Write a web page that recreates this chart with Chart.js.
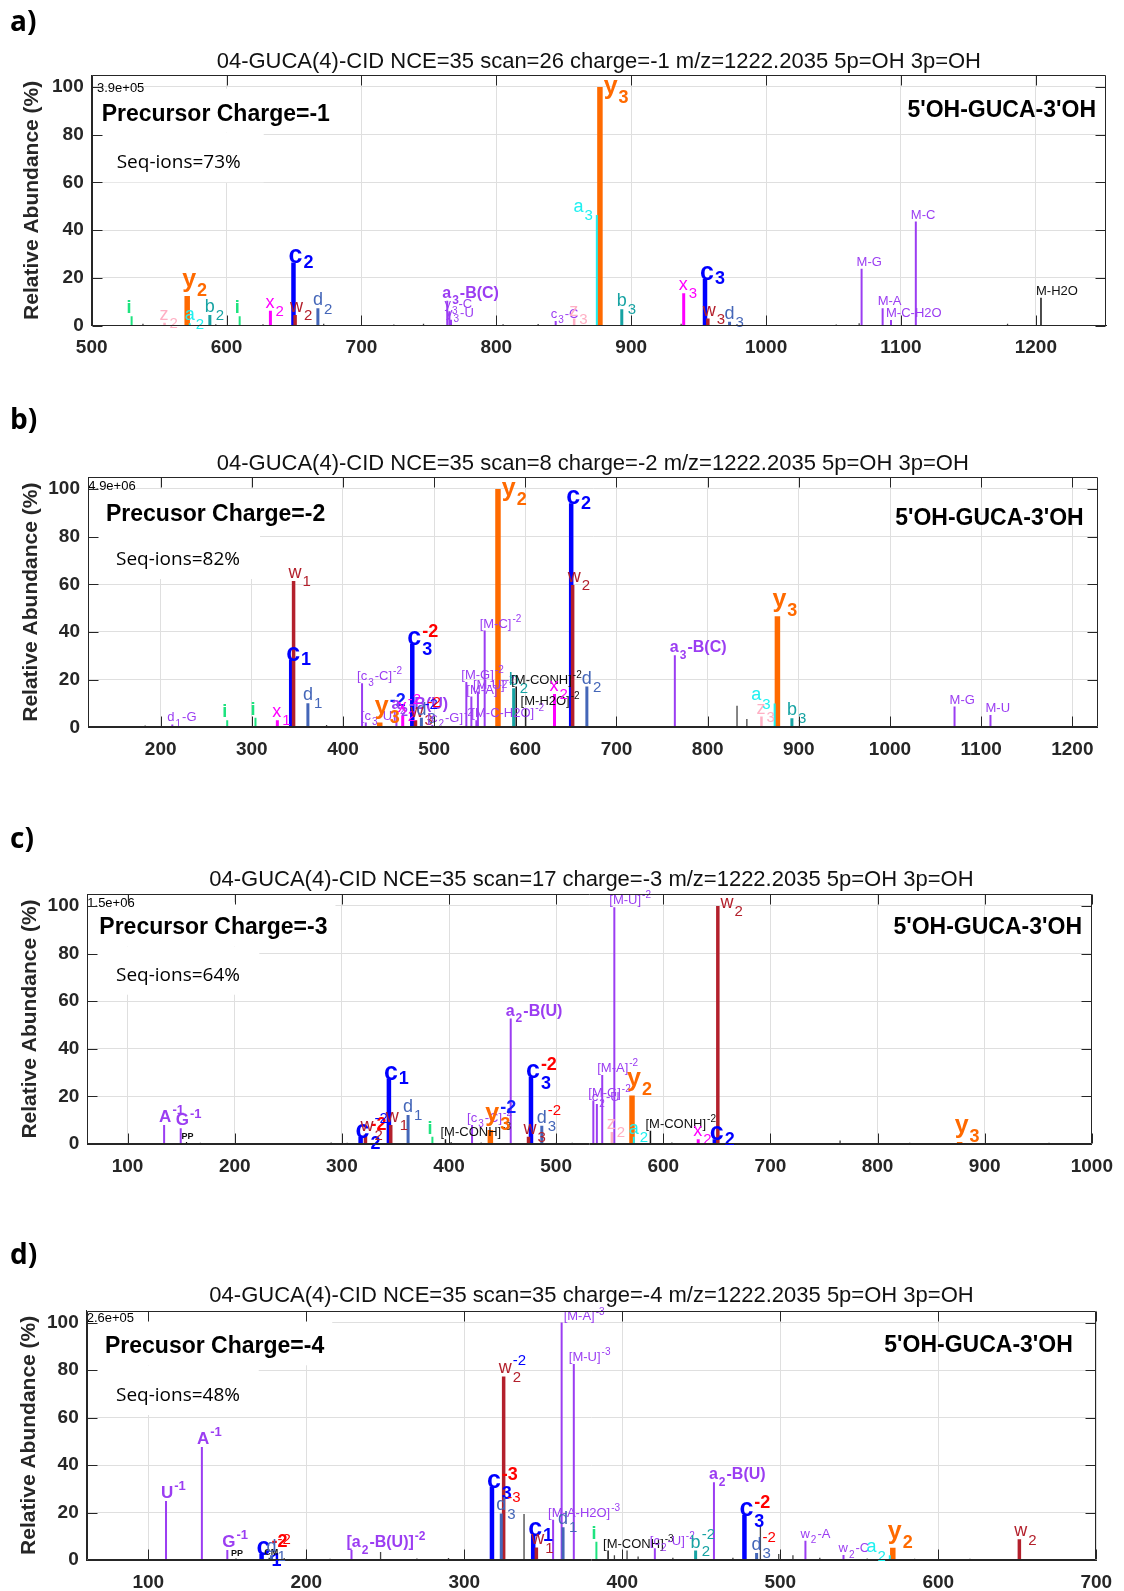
<!DOCTYPE html>
<html><head><meta charset="utf-8">
<script src="https://cdn.jsdelivr.net/npm/chart.js@4.4.1/dist/chart.umd.min.js"></script>
<style>
html,body{margin:0;padding:0;background:#fff;}
body{width:1124px;height:1591px;position:relative;overflow:hidden;font-family:"Liberation Sans",Arial,sans-serif;}
canvas{position:absolute;left:0;}
.ttl{position:absolute;font-size:22px;white-space:nowrap;text-align:center;width:1000px;height:26px;line-height:26px;color:#111;z-index:2;}
.let{position:absolute;left:10px;font-family:"Open Sans",sans-serif;font-weight:bold;font-size:28px;height:36px;line-height:36px;color:#000;z-index:2;}
</style></head><body>
<script>
// ---------------- DATA ----------------
const panelLetters = ['a)','b)','c)','d)'];
const panelTitles = [
  '04-GUCA(4)-CID NCE=35 scan=26 charge=-1 m/z=1222.2035 5p=OH 3p=OH',
  '04-GUCA(4)-CID NCE=35 scan=8 charge=-2 m/z=1222.2035 5p=OH 3p=OH',
  '04-GUCA(4)-CID NCE=35 scan=17 charge=-3 m/z=1222.2035 5p=OH 3p=OH',
  '04-GUCA(4)-CID NCE=35 scan=35 charge=-4 m/z=1222.2035 5p=OH 3p=OH'
];
const precursorLabels = ['Precursor Charge=-1','Precusor Charge=-2','Precursor Charge=-3','Precusor Charge=-4'];
const seqIonLabels = ['Seq-ions=73%','Seq-ions=82%','Seq-ions=64%','Seq-ions=48%'];
const sequenceLabel = "5'OH-GUCA-3'OH";
const maxIntensityLabels = ['3.9e+05','4.9e+06','1.5e+06','2.6e+05'];
const yAxisTitle = 'Relative Abundance (%)';
const yTicks = [0,20,40,60,80,100];
const xTicksA = [500,600,700,800,900,1000,1100,1200];
const xTicksB = [200,300,400,500,600,700,800,900,1000,1100,1200];
const xTicksC = [100,200,300,400,500,600,700,800,900,1000];
const xTicksD = [100,200,300,400,500,600,700];

// Panel a (charge -1)
const mzA  = [529.6,554,570.8,572.7,587.6,609.7,632.5,649.6,650.8,667.7,763.6,765.2,766.4,844,857.7,874.5,876.8,893,938.9,954.7,956.8,972.9,1070.8,1086.4,1092.6,1111,1203.8,
              538,592,627,672,724,746,805,831,937,1052,1069,1179];
const intA = [4,1.2,12.4,1,4.5,4,6.3,26.5,4.5,7.3,10.5,6,2.5,2,3,46.4,100,6.9,13.6,19.6,3,1.7,23.8,7.3,2.4,43.6,11.7,
              0.8,0.6,0.6,0.8,0.5,0.8,0.6,0.7,0.8,0.5,1,0.8];
const ionA = ['i','z','y','a','b','i','x','c','w','d','ib','m','m','m','z','a','y','b','x','c','w','d','m','m','m','m','k',
              'n','n','n','n','n','n','n','n','n','n','n','n'];
const labA = ['i','z_{2}','y_{2}','a_{2}','b_{2}','i','x_{2}','c_{2}','w_{2}','d_{2}','a_{3}-B(C)','y_{3}-C','y_{3}-U','c_{3}-C','z_{3}','a_{3}','y_{3}','b_{3}','x_{3}','c_{3}','w_{3}','d_{3}','M-G','M-A','M-C-H2O','M-C','M-H2O',
              '','','','','','','','','','','',''];

// Panel b (charge -2)
const mzB  = [212.8,273,304,328,343.2,345.8,361.5,420.9,425,440.3,458.6,465.5,476,479.5,486,498,535.3,540.8,546.3,548,555.4,570,587.2,590,600.3,632,650.3,651.9,667.5,764,832.2,843,859,873.5,876.5,892.4,1070.8,1110.2,
              183,229,382,508,729,746,815,941];
const intB = [1.2,3,4,3,28.4,61.4,10.1,18.5,2,2,6.4,5,35.1,3,4,1,19,12.9,3,15,40.6,100,16.4,17.1,8,14,94,59.7,17.1,30.2,9,3.5,4.5,10,46.6,3.8,8.7,5.2,
              0.8,0.5,1,0.7,0.5,0.5,0.5,0.5];
const ionB = ['m','i','i','x','c','w','d','m','m','y','ib','x','c','w','d','m','m','m','m','m','m','y','b','k','k','x','c','w','d','ib','n','n','z','a','y','b','m','m',
              'n','n','n','n','n','n','n','n'];
const labB = ['d_{1}-G','i','i','x_{1}','c_{1}','w_{1}','d_{1}','[c_{3}-C]^{-2}','[c_{3}-U]^{-2}','y_{3}^{-2}','a_{2}-B(U)','x_{2}^{-2}','c_{3}^{-2}','w_{3}^{-2}','d_{3}^{-2}','[c_{2}-G]^{-2}','[M-G]^{-2}','[M-A]^{-2}','[M-C-H2O]^{-2}','[M-U]^{-2}','[M-C]^{-2}','y_{2}','b_{2}','[M-CONH]^{-2}','[M-H2O]^{-2}','x_{2}','c_{2}','w_{2}','d_{2}','a_{3}-B(C)','','','z_{3}','a_{3}','y_{3}','b_{3}','M-G','M-U',
              '','','','','','','',''];

// Panel c (charge -3)
const mzC  = [134.1,149.6,155,317.5,322,343.9,345.6,361.8,384.5,396.7,421.5,438.6,457.6,474.2,476.5,486.6,534.7,538,543,552,554.3,570.8,572.5,588,632.6,648.1,650.9,876.6,
              168,190,290,305,402,430,500,515,608,765,830,960];
const intC = [8,6.6,0.8,3,4,27.5,8,12.2,3,2,8,5.9,52.7,3,28.2,7.7,18.3,16.8,29,5,99.4,20.4,3,5.6,2,2,100,0.8,
              0.5,0.4,0.6,0.5,0.8,0.6,0.5,0.5,0.6,1.5,0.5,0.5];
const ionC = ['base','base','ks','c','w','c','w','d','i','k','m','y','ib','w','c','d','m','m','m','z','m','y','a','k','x','c','w','y',
              'n','n','n','n','n','n','n','n','n','n','n','n'];
const labC = ['A^{-1}','G^{-1}','PP','c_{2}^{-2}','w_{2}^{-2}','c_{1}','w_{1}','d_{1}','i','[M-CONH]^{-3}','[c_{3}-C]^{-2}','y_{3}^{-2}','a_{2}-B(U)','w_{3}','c_{3}^{-2}','d_{3}^{-2}','[M-G]^{-2}','c_{2}-U','[M-A]^{-2}','z_{2}','[M-U]^{-2}','y_{2}','a_{2}','[M-CONH]^{-2}','x_{2}','c_{2}','w_{2}','y_{3}',
              '','','','','','','','','','','',''];

// Panel d (charge -4)
const mzD  = [111.2,133.9,150,155.5,171.7,176.5,178,228.6,317.5,323.4,324.9,343.6,345.6,356.2,361.6,362.5,369.3,383.6,391,420.6,446.4,458,477.3,485,515.9,540,569.3,571.2,651.3,
              247,337.8,403,487.4,186,200,215,270,290,395,410,432,470,499,508,525,555,585,620];
const intD = [24.9,47.6,4.2,0.6,2.5,1,2,4.2,30.8,19.6,77.3,10.5,5.3,16.9,100,13.8,82.6,7.7,4,5,4,32.7,19,3,8.1,2.1,2,5.2,8.7,
              3.4,19.4,4,14.7,0.8,0.6,0.5,0.6,0.8,2,1.5,1,1,2.5,2,1,0.6,0.5,0.5];
const ionD = ['base','base','base','ks','c','ks','d','ib','c','d','w','c','w','m','m','d','m','i','k','m','b','ib','c','d','m','m','a','y','w',
              'n','n','n','n','n','n','n','n','n','n','n','n','n','n','n','n','n','n','n'];
const labD = ['U^{-1}','A^{-1}','G^{-1}','PP','c_{1}^{-2}','CM','d_{1}^{-2}','[a_{2}-B(U)]^{-2}','c_{3}^{-3}','d_{3}^{-3}','w_{2}^{-2}','c_{1}','w_{1}','[M-A-H2O]^{-3}','[M-A]^{-3}','d_{1}','[M-U]^{-3}','i','[M-CONH]^{-3}','[c_{2}-U]^{-2}','b_{2}^{-2}','a_{2}-B(U)','c_{3}^{-2}','d_{3}^{-2}','w_{2}-A','w_{2}-C','a_{2}','y_{2}','w_{2}',
              '','','','','','','','','','','','','','','','','','',''];

// ---------------- STYLE / LAYOUT ----------------
const FAM = '"Liberation Sans", Arial, sans-serif';
const ionStyle = {
  y:   {color:'#ff6a00', bw:5.5, weight:'bold',   size:25, sub:18, supColor:'#1020ff', big:'y', order:2},
  c:   {color:'#0000ff', bw:4.5, weight:'bold',   size:25, sub:18, supColor:'#ff0000', big:'c', order:2},
  w:   {color:'#b3202c', bw:3.5, weight:'normal', size:18, sub:15, supColor:'#0000ff', order:1},
  d:   {color:'#4466b8', bw:3,   weight:'normal', size:18, sub:15, supColor:'#ff0000', order:1},
  x:   {color:'#ff00ff', bw:3,   weight:'normal', size:18, sub:15, order:1},
  b:   {color:'#17a3a3', bw:3,   weight:'normal', size:18, sub:15, order:1},
  a:   {color:'#1ff0f0', bw:2,   weight:'normal', size:18, sub:15, order:1},
  z:   {color:'#ffb0c4', bw:2.5, weight:'normal', size:18, sub:15, order:1},
  i:   {color:'#1ee37f', bw:2,   weight:'bold',   size:18, sub:15, order:1},
  m:   {color:'#9b3df2', bw:2,   weight:'normal', size:13, sub:10, order:1},
  ib:  {color:'#9b3df2', bw:2,   weight:'bold',   size:16, sub:12, order:1},
  base:{color:'#9b3df2', bw:2,   weight:'bold',   size:17, sub:13, order:1},
  k:   {color:'#111111', bw:1.5, weight:'normal', size:13, sub:10, order:1},
  ks:  {color:'#111111', bw:1.2, weight:'bold',   size:9,  sub:7,  order:1},
  n:   {color:'#444444', bw:1.3, weight:'normal', size:0,  sub:0,  order:3}
};
const geom = [
  {cy:0,    H:372, L:91.7, R:1106,   T:75,     B:325.7, xMin:500,   xMax:1252,  tY:61,     ltY:20,
   precX:101.7, precDy:45.7, seqX:116.7, seqDy:93.3, nameR:1096, nameDy:41.5, scX:97,   scDy:16.7, ytPad:20},
  {cy:400,  H:372, L:88,   R:1097.5, T:477,    B:727.3, xMin:120.3, xMax:1227.6,tY:462.6,  ltY:418,
   precX:106,   precDy:44,   seqX:116,   seqDy:88,   nameR:1083.7, nameDy:48, scX:88.3, scDy:13,   ytPad:19},
  {cy:820,  H:372, L:87.3, R:1095.5, T:894,    B:1144,  xMin:62.4,  xMax:1000,  tY:878.5,  ltY:837,
   precX:99.3,  precDy:40.3, seqX:116,   seqDy:86.7, nameR:1082, nameDy:40,   scX:87.3, scDy:12.7, ytPad:18},
  {cy:1230, H:361, L:86.7, R:1096.3, T:1310.7, B:1560,  xMin:61,    xMax:700,   tY:1294.5, ltY:1253,
   precX:105,   precDy:42.6, seqX:116,   seqDy:90.3, nameR:1072.8, nameDy:41.3, scX:86.7, scDy:11.3, ytPad:17}
];
const panels = [
  {mz:mzA, inten:intA, ion:ionA, lab:labA, xt:xTicksA},
  {mz:mzB, inten:intB, ion:ionB, lab:labB, xt:xTicksB},
  {mz:mzC, inten:intC, ion:ionC, lab:labC, xt:xTicksC},
  {mz:mzD, inten:intD, ion:ionD, lab:labD, xt:xTicksD}
];

// ---------------- LABEL RENDERING ----------------
function parseLabel(s){
  const segs=[]; let i=0, buf='';
  while(i<s.length){
    const ch=s[i];
    if((ch==='_'||ch==='^') && s[i+1]==='{'){
      if(buf){segs.push({t:buf,k:'n'});buf='';}
      const j=s.indexOf('}',i);
      segs.push({t:s.slice(i+2,j),k:ch==='_'?'sub':'sup'});
      i=j+1;
    } else {buf+=ch;i++;}
  }
  if(buf) segs.push({t:buf,k:'n'});
  return segs;
}
function renderSegs(ctx, segs, x, y, st, draw){
  const w0 = st.weight||'normal';
  const mainF = `${w0} ${st.size}px ${FAM}`, subF = `${w0} ${st.sub}px ${FAM}`;
  let cx = x;
  for(let k=0;k<segs.length;k++){
    const s=segs[k];
    if(s.k==='n'){
      ctx.font=mainF;
      if(draw){ctx.fillStyle=st.color; ctx.fillText(s.t,cx,y);}
      cx+=ctx.measureText(s.t).width;
    } else {
      let sub=null, sup=null;
      while(k<segs.length && segs[k].k!=='n'){ if(segs[k].k==='sub') sub=segs[k].t; else sup=segs[k].t; k++; }
      k--;
      ctx.font=subF;
      let w=0;
      if(sub!==null){
        const dy = st.big==='c' ? (sup!==null?0.6:0.25)*st.sub : (st.big==='y'?0.5:0.55)*st.sub;
        if(draw){ctx.fillStyle=st.color; ctx.fillText(sub,cx+1,y+dy);}
        w=Math.max(w,ctx.measureText(sub).width);
      }
      if(sup!==null){
        const dy = st.big ? -0.32*st.size : -0.45*st.size;
        if(draw){ctx.fillStyle=st.supColor||st.color; ctx.fillText(sup,cx+1,y+dy);}
        w=Math.max(w,ctx.measureText(sup).width);
      }
      cx+=w+2;
    }
  }
  return cx-x;
}
function drawPeakLabel(ctx, text, px, topY, st, area, blocked){
  if(!text || !st.size) return;
  const segs=parseLabel(text);
  ctx.textAlign='left'; ctx.textBaseline='alphabetic';
  const tw = renderSegs(ctx, segs, 0, 0, st, false);
  let base = st.big==='c' ? topY+1 : (st.big==='y' ? topY-9 : topY-3);
  const minBase = area.top + 0.75*st.size;
  let clamped=false;
  if(base<minBase){ base=minBase; clamped=true; }
  let x = px-5;
  if(clamped) x = px + st.bw/2 + 1;
  else if(blocked) x = px - 3 - tw;
  if(x+tw > area.right-2) x = area.right-2-tw;
  renderSegs(ctx, segs, x, base, st, true);
}

// ---------------- PLUGIN (one per panel) ----------------
function makeDecoPlugin(p){
  const g=geom[p], d=panels[p];
  return {
    id:'deco'+p,
    beforeDatasetsDraw(chart){
      const ctx=chart.ctx, a=chart.chartArea;
      ctx.save();
      ctx.font = `bold 23px ${FAM}`;
      const pw = ctx.measureText(precursorLabels[p]).width;
      const pTop = a.top+g.precDy-32, pBot = a.top+g.precDy+12;
      ctx.fillStyle='#fff';
      ctx.fillRect(a.left+1, pTop, g.precX+pw+8-(a.left+1), pBot-pTop);
      ctx.fillRect(a.left+1, pBot, 171, a.top+g.seqDy+14-pBot);
      ctx.restore();
    },
    afterDatasetsDraw(chart){
      const ctx=chart.ctx, a=chart.chartArea;
      const xs=chart.scales.x, ys=chart.scales.y;
      const pxs=d.mz.map(m=>xs.getPixelForValue(m));
      ctx.save();
      d.mz.forEach((m,i)=>{
        const st=ionStyle[d.ion[i]];
        let blocked=false;
        for(let j=0;j<d.mz.length;j++){
          if(j===i || d.ion[j]!=='y') continue;
          const dx=pxs[j]-pxs[i];
          if(dx>0.5 && dx<7 && d.inten[j]>2*d.inten[i]) {blocked=true;break;}
        }
        drawPeakLabel(ctx, d.lab[i], pxs[i], ys.getPixelForValue(d.inten[i]), st, a, blocked);
      });
      ctx.restore();
    },
    afterDraw(chart){
      const ctx=chart.ctx, a=chart.chartArea;
      const xs=chart.scales.x, ys=chart.scales.y;
      ctx.save();
      ctx.textBaseline='alphabetic';
      ctx.fillStyle='#000';
      ctx.textAlign='left';
      ctx.font=`bold 23px ${FAM}`;
      ctx.fillText(precursorLabels[p], g.precX, a.top+g.precDy);
      ctx.font='19px "Open Sans", sans-serif';
      ctx.fillText(seqIonLabels[p], g.seqX, a.top+g.seqDy);
      ctx.font=`13px ${FAM}`;
      ctx.fillText(maxIntensityLabels[p], g.scX, a.top+g.scDy);
      ctx.textAlign='right';
      ctx.font=`bold 23px ${FAM}`;
      ctx.fillText(sequenceLabel, g.nameR, a.top+g.nameDy);
      ctx.strokeStyle='#262626'; ctx.lineWidth=1;
      const L=Math.round(a.left)+0.5, R=Math.round(a.right)-0.5, T=Math.round(a.top)+0.5, B=Math.round(a.bottom)-0.5;
      ctx.beginPath();
      ctx.rect(L,T,R-L,B-T);
      d.xt.forEach(v=>{
        const x=Math.round(xs.getPixelForValue(v))+0.5;
        ctx.moveTo(x,B); ctx.lineTo(x,B-10);
        ctx.moveTo(x,T); ctx.lineTo(x,T+10);
      });
      yTicks.forEach(v=>{
        const y=Math.round(ys.getPixelForValue(v))+0.5;
        ctx.moveTo(L,y); ctx.lineTo(L+10,y);
        ctx.moveTo(R,y); ctx.lineTo(R-10,y);
      });
      ctx.stroke();
      ctx.restore();
    }
  };
}

// ---------------- BUILD ----------------
function makeDatasets(d){
  const groups={}, orderKeys=[];
  d.mz.forEach((m,i)=>{
    const t=d.ion[i];
    if(!groups[t]){groups[t]=[];orderKeys.push(t);}
    groups[t].push({x:m, y:d.inten[i]});
  });
  return orderKeys.map(t=>{
    const st=ionStyle[t];
    return {label:t, data:groups[t], backgroundColor:st.color, barThickness:st.bw,
            grouped:false, borderWidth:0, order:st.order, inflateAmount:0};
  });
}

panels.forEach((d,p)=>{
  const g=geom[p];
  const cv=document.createElement('canvas');
  cv.width=1124; cv.height=g.H;
  cv.style.top=g.cy+'px'; cv.style.width='1124px'; cv.style.height=g.H+'px';
  document.body.appendChild(cv);

  const tt=document.createElement('div');
  tt.className='ttl'; tt.textContent=panelTitles[p];
  tt.style.left=((g.L+g.R)/2-500)+'px'; tt.style.top=(g.tY-13)+'px';
  document.body.appendChild(tt);
  const lt=document.createElement('div');
  lt.className='let'; lt.textContent=panelLetters[p];
  lt.style.top=(g.ltY-18)+'px';
  document.body.appendChild(lt);

  const tickFont={family:FAM, size:19, weight:'bold'};
  new Chart(cv.getContext('2d'),{
    type:'bar',
    data:{datasets:makeDatasets(d)},
    options:{
      responsive:false, animation:false, devicePixelRatio:1, events:[],
      layout:{padding:{left:0, top:g.T-g.cy, right:1124-g.R, bottom:0}},
      plugins:{legend:{display:false}, tooltip:{enabled:false}, title:{display:false}},
      scales:{
        x:{type:'linear', min:g.xMin, max:g.xMax, offset:false,
           grid:{offset:false, color:'#dfdfdf', lineWidth:1, drawTicks:false},
           border:{display:true, color:'#262626', width:1},
           ticks:{font:tickFont, color:'#262626', padding:11, maxRotation:0, autoSkip:false, callback:v=>String(v)},
           afterBuildTicks:s=>{s.ticks=d.xt.map(v=>({value:v}));},
           afterFit:s=>{s.height=g.H-(g.B-g.cy);}
        },
        y:{type:'linear', min:0, max:105,
           grid:{color:'#dfdfdf', lineWidth:1, drawTicks:false},
           border:{display:true, color:'#262626', width:1},
           ticks:{font:tickFont, color:'#262626', padding:8, autoSkip:false, callback:v=>String(v)},
           title:{display:true, text:yAxisTitle, color:'#262626', font:{family:FAM, size:21, weight:'bold'}, padding:{top:g.ytPad, bottom:0}},
           afterBuildTicks:s=>{s.ticks=yTicks.map(v=>({value:v}));},
           afterFit:s=>{s.width=g.L;}
        }
      }
    },
    plugins:[makeDecoPlugin(p)]
  });
});
</script>
</body></html>
